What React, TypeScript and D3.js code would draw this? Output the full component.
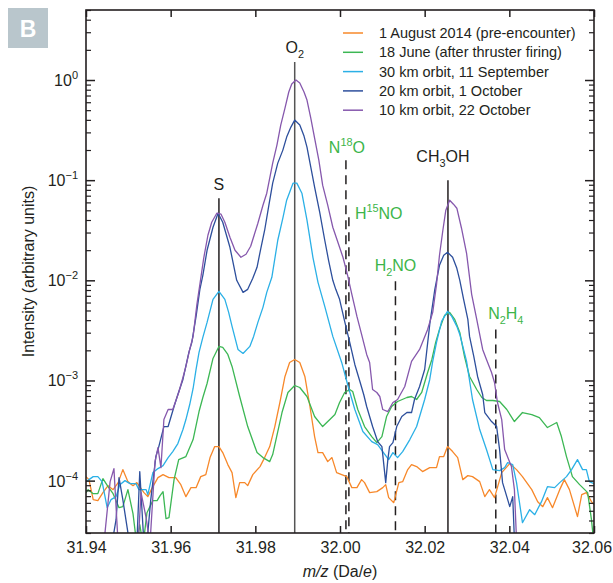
import React, { useRef, useEffect } from "react";
import * as d3 from "d3";

// every series point is [m/z, log10 intensity]
const aug2014 = [
  [31.94, -3.96], [31.9407, -3.99], [31.9417, -4.19], [31.9428, -4.2], [31.944, -4.12], [31.9452, -4.05],
  [31.9464, -4.09], [31.9476, -4.02], [31.9487, -3.89], [31.9499, -4.01], [31.9511, -4.05], [31.952, -4.02],
  [31.9537, -4.12], [31.9546, -4.16], [31.9558, -4.06], [31.957, -3.97], [31.9582, -3.94], [31.9596, -3.97],
  [31.9612, -3.97], [31.9624, -4.04], [31.9636, -4.16], [31.9648, -4.07], [31.966, -4.07], [31.9671, -3.96],
  [31.9683, -3.94], [31.9693, -3.77], [31.9704, -3.66], [31.9714, -3.66], [31.9723, -3.72], [31.9735, -3.84],
  [31.9745, -3.92], [31.9754, -4.17], [31.9763, -4.02], [31.9775, -4.02], [31.9782, -4.05], [31.9794, -3.94],
  [31.9811, -3.86], [31.9822, -3.77], [31.9834, -3.66], [31.9846, -3.46], [31.9858, -3.22], [31.987, -2.96],
  [31.9881, -2.82], [31.9893, -2.79], [31.9905, -2.82], [31.9917, -2.96], [31.9929, -3.26], [31.994, -3.56],
  [31.9948, -3.72], [31.9959, -3.72], [31.9971, -3.81], [31.9981, -3.77], [31.9992, -3.92], [32.0004, -3.94],
  [32.0016, -3.96], [32.0028, -4.07], [32.004, -4.07], [32.0051, -3.99], [32.0058, -4.02], [32.007, -4.12],
  [32.0087, -4.11], [32.0101, -4.07], [32.0108, -4.04], [32.0115, -4.17], [32.0127, -4.22], [32.0139, -4.02],
  [32.0148, -4.01], [32.016, -3.89], [32.0169, -3.84], [32.0181, -3.86], [32.0195, -3.91], [32.0212, -3.87],
  [32.0228, -3.87], [32.0235, -3.76], [32.0245, -3.76], [32.0254, -3.66], [32.0266, -3.71], [32.0278, -3.77],
  [32.029, -3.99], [32.0302, -3.95], [32.0313, -3.96], [32.033, -4.01], [32.0342, -4.16], [32.0353, -4.09],
  [32.0365, -4.17], [32.0382, -3.92], [32.0401, -3.83], [32.0417, -3.89], [32.0431, -3.96], [32.0453, -4.09],
  [32.0467, -4.21], [32.0479, -4.26], [32.049, -4.17], [32.0502, -4.27], [32.0519, -4.09], [32.053, -3.99],
  [32.0542, -4.09], [32.0561, -4.36], [32.0571, -4.14], [32.0582, -4.12], [32.0594, -4.21], [32.06, -4.24],
];

const june18 = [
  [31.94, -4.12], [31.9405, -4.09], [31.9417, -4.13], [31.9428, -4.13], [31.944, -3.98], [31.9452, -4.06],
  [31.9464, -4.13], [31.9478, -4.27], [31.9487, -4.26], [31.9499, -4.09], [31.9511, -4.33], [31.952, -4.64],
  [31.9527, -4.44], [31.9535, -4.64], [31.9544, -4.32], [31.9558, -4.2], [31.9568, -4.2], [31.9575, -4.15],
  [31.9582, -4.11], [31.9589, -4.38], [31.9596, -4.37], [31.9608, -3.99], [31.9619, -3.79], [31.9636, -3.76],
  [31.9653, -3.59], [31.9667, -3.31], [31.9676, -3.17], [31.9686, -3.03], [31.97, -2.78], [31.9714, -2.66],
  [31.9723, -2.67], [31.9735, -2.74], [31.9745, -2.86], [31.9763, -3.16], [31.9782, -3.46], [31.9804, -3.72],
  [31.9818, -3.77], [31.9834, -3.81], [31.9841, -3.74], [31.9853, -3.51], [31.9863, -3.32], [31.9877, -3.12],
  [31.9893, -3.05], [31.9905, -3.07], [31.9922, -3.16], [31.994, -3.36], [31.9959, -3.46], [31.9976, -3.39],
  [31.9988, -3.34], [31.9999, -3.22], [32.0011, -3.12], [32.0023, -3.09], [32.003, -3.11], [32.0042, -3.29],
  [32.0058, -3.46], [32.0075, -3.56], [32.0087, -3.62], [32.0099, -3.56], [32.011, -3.36], [32.0122, -3.26],
  [32.0136, -3.21], [32.0158, -3.17], [32.0169, -3.16], [32.0181, -3.19], [32.0193, -3.12], [32.0207, -2.92],
  [32.0217, -2.79], [32.0226, -2.62], [32.0235, -2.49], [32.0247, -2.35], [32.0259, -2.32], [32.0271, -2.39],
  [32.0283, -2.52], [32.0294, -2.76], [32.0306, -2.96], [32.0323, -3.09], [32.0335, -3.17], [32.0346, -3.2],
  [32.0361, -3.2], [32.0377, -3.21], [32.0394, -3.29], [32.0412, -3.41], [32.0431, -3.32], [32.0453, -3.34],
  [32.0471, -3.37], [32.049, -3.47], [32.0512, -3.42], [32.0523, -3.56], [32.0535, -3.76], [32.0549, -3.96],
  [32.0566, -4.04], [32.0578, -4.09], [32.0585, -4.12], [32.0594, -4.39], [32.06, -4.64],
];

const sep11 = [
  [31.94, -4.01], [31.9407, -3.99], [31.9417, -3.96], [31.9428, -3.96], [31.9438, -4.01], [31.945, -4.27],
  [31.9459, -4.19], [31.9471, -4.16], [31.948, -4.04], [31.9492, -4.0], [31.9504, -4.03], [31.9518, -4.03],
  [31.9525, -4.09], [31.9542, -4.09], [31.9546, -4.14], [31.9558, -3.92], [31.957, -3.88], [31.9582, -3.85],
  [31.9594, -3.77], [31.9605, -3.71], [31.9617, -3.63], [31.9629, -3.49], [31.9636, -3.39], [31.9645, -3.24],
  [31.9653, -3.08], [31.966, -2.89], [31.9667, -2.72], [31.9676, -2.57], [31.9686, -2.42], [31.97, -2.19],
  [31.9714, -2.11], [31.9728, -2.19], [31.9737, -2.32], [31.9745, -2.46], [31.9759, -2.69], [31.9771, -2.73],
  [31.9787, -2.66], [31.9796, -2.56], [31.9806, -2.42], [31.9818, -2.27], [31.9827, -2.12], [31.9839, -1.97],
  [31.9853, -1.6], [31.9865, -1.38], [31.9874, -1.2], [31.9889, -1.03], [31.9898, -1.03], [31.991, -1.13],
  [31.9922, -1.4], [31.9936, -1.77], [31.9948, -2.02], [31.9964, -2.26], [31.9983, -2.56], [32.0004, -2.82],
  [32.0018, -3.04], [32.0035, -3.29], [32.0054, -3.51], [32.0075, -3.61], [32.0089, -3.64], [32.0101, -3.71],
  [32.0115, -3.79], [32.0125, -3.72], [32.0136, -3.77], [32.0148, -3.71], [32.0165, -3.59], [32.0181, -3.46],
  [32.02, -3.19], [32.0212, -2.99], [32.0219, -2.81], [32.0228, -2.62], [32.024, -2.41], [32.0254, -2.31],
  [32.0264, -2.36], [32.0276, -2.46], [32.0283, -2.54], [32.0299, -2.81], [32.0313, -3.19], [32.033, -3.49],
  [32.0346, -3.69], [32.0361, -3.89], [32.0377, -3.9], [32.0389, -3.87], [32.0396, -3.82], [32.0408, -3.84],
  [32.0417, -4.02], [32.0431, -4.42], [32.0448, -4.29], [32.046, -4.34], [32.0476, -4.21], [32.049, -4.06],
  [32.0507, -4.07], [32.0519, -4.02], [32.0535, -3.96], [32.0547, -3.89], [32.0561, -3.79], [32.0573, -3.89],
  [32.0582, -3.89], [32.0589, -4.01], [32.06, -4.03],
];

const oct1 = [
  [31.9461, -4.64], [31.9471, -4.39], [31.9478, -3.97], [31.9487, -4.19], [31.9499, -4.52], [31.9506, -4.64],
  [31.952, -4.64], [31.9527, -3.91], [31.9537, -4.64], [31.9546, -4.52], [31.9553, -4.19], [31.9565, -3.76],
  [31.9572, -3.66], [31.9584, -3.46], [31.9594, -3.46], [31.9608, -3.26], [31.9617, -3.14], [31.9629, -2.99],
  [31.9643, -2.72], [31.965, -2.62], [31.966, -2.36], [31.9669, -2.09], [31.9676, -1.95], [31.9686, -1.7],
  [31.97, -1.47], [31.9712, -1.33], [31.9723, -1.42], [31.974, -1.67], [31.9756, -2.0], [31.9771, -2.12],
  [31.9782, -2.09], [31.9794, -1.98], [31.9804, -1.87], [31.9813, -1.68], [31.9822, -1.5], [31.9832, -1.25],
  [31.9841, -1.03], [31.9853, -0.83], [31.9865, -0.7], [31.9874, -0.57], [31.9884, -0.47], [31.9893, -0.4],
  [31.9905, -0.45], [31.9915, -0.56], [31.9922, -0.67], [31.9931, -0.87], [31.994, -1.07], [31.9952, -1.32],
  [31.9964, -1.6], [31.9973, -1.8], [31.9983, -2.0], [31.999, -2.09], [31.9999, -2.19], [32.0011, -2.41],
  [32.0023, -2.62], [32.0035, -2.84], [32.0047, -3.01], [32.0056, -3.14], [32.0063, -3.26], [32.0077, -3.46],
  [32.0089, -3.61], [32.0099, -3.66], [32.0108, -4.02], [32.0113, -3.79], [32.0117, -3.66], [32.0125, -3.62],
  [32.0134, -3.46], [32.0146, -3.36], [32.0158, -3.32], [32.0169, -3.32], [32.0176, -3.19], [32.0188, -3.06],
  [32.02, -2.89], [32.0212, -2.44], [32.0224, -2.09], [32.0235, -1.85], [32.0245, -1.75], [32.0254, -1.72],
  [32.0266, -1.77], [32.0276, -1.88], [32.0283, -2.0], [32.0292, -2.19], [32.0302, -2.39], [32.0306, -2.56],
  [32.0316, -2.76], [32.0325, -2.96], [32.0337, -3.14], [32.0342, -3.32], [32.0358, -3.41], [32.037, -3.46],
  [32.0377, -3.69], [32.0384, -4.02], [32.0394, -4.16], [32.0401, -4.26], [32.0408, -4.16], [32.0412, -4.59],
];

const oct22 = [
  [31.9442, -4.64], [31.9457, -4.01], [31.9466, -3.88], [31.9476, -4.64], [31.9523, -4.64], [31.953, -4.12],
  [31.9542, -4.37], [31.9551, -4.64], [31.9563, -3.81], [31.957, -3.67], [31.9577, -3.87], [31.9584, -3.39],
  [31.9594, -3.29], [31.9605, -3.29], [31.9619, -3.12], [31.9629, -2.97], [31.9636, -2.86], [31.9645, -2.69],
  [31.9653, -2.56], [31.9662, -2.24], [31.9669, -2.04], [31.9678, -1.78], [31.9688, -1.55], [31.9697, -1.42],
  [31.9709, -1.33], [31.9719, -1.34], [31.9728, -1.42], [31.974, -1.57], [31.9752, -1.7], [31.9766, -1.77],
  [31.9778, -1.74], [31.9789, -1.66], [31.9806, -1.43], [31.9818, -1.25], [31.9827, -1.13], [31.9841, -0.83],
  [31.9851, -0.65], [31.986, -0.45], [31.987, -0.28], [31.9879, -0.12], [31.9886, -0.04], [31.9896, 0.0],
  [31.9905, -0.03], [31.9915, -0.12], [31.9922, -0.2], [31.9931, -0.38], [31.994, -0.58], [31.995, -0.8],
  [31.9959, -1.05], [31.9971, -1.25], [31.9983, -1.47], [31.9995, -1.62], [32.0007, -1.77], [32.0018, -1.95],
  [32.0028, -2.14], [32.004, -2.36], [32.0051, -2.54], [32.0063, -2.74], [32.007, -2.82], [32.0077, -3.09],
  [32.0087, -3.12], [32.0094, -3.16], [32.0101, -3.29], [32.0113, -3.31], [32.0125, -3.22], [32.0136, -3.19],
  [32.0153, -3.06], [32.0169, -2.81], [32.0188, -2.69], [32.0207, -2.49], [32.0219, -2.32], [32.0228, -2.04],
  [32.0235, -1.75], [32.0243, -1.5], [32.025, -1.3], [32.0259, -1.2], [32.0268, -1.24], [32.0276, -1.28],
  [32.0287, -1.48], [32.0299, -1.73], [32.0311, -2.14], [32.0323, -2.39], [32.0337, -2.69], [32.0346, -2.79],
  [32.0358, -2.92], [32.0365, -3.02], [32.0372, -3.22], [32.0382, -3.39], [32.0389, -3.69], [32.0405, -3.86],
  [32.0412, -4.09], [32.0417, -4.59],
];

const series = [aug2014, june18, sep11, oct1, oct22];
const seriesNames = [
  "1 August 2014 (pre-encounter)",
  "18 June (after thruster firing)",
  "30 km orbit, 11 September",
  "20 km orbit, 1 October",
  "10 km orbit, 22 October",
];
const seriesColors = ["#f7882a", "#3cb754", "#2bb0e6", "#2d4f9c", "#8658ad"];

const xTicks = [31.94, 31.96, 31.98, 32.0, 32.02, 32.04, 32.06];
const yTickExps = [-4, -3, -2, -1, 0];

// assigned species: m/z of the line and its upper end (log10 intensity)
// "_n" is a subscript, "^n" a superscript
const solidPeaks = [
  { name: "S", mz: 31.9714, top: -1.18 },
  { name: "O_2", mz: 31.9893, top: 0.18 },
  { name: "CH_3OH", mz: 32.0255, top: -1.0 },
];
const dashedPeaks = [
  { name: "N^18O", mz: 32.0014, top: -0.8 },
  { name: "H^15NO", mz: 32.0021, top: -1.37 },
  { name: "H_2NO", mz: 32.0131, top: -2.01 },
  { name: "N_2H_4", mz: 32.0368, top: -2.49 },
];

const FONT = "'Liberation Sans', Arial, Helvetica, sans-serif";
const INK = "#231f20";
const LABEL_GREEN = "#3cb54a";

// label placement relative to the top of each marker line
const labelOffset: Record<string, { dx: number; dy: number; anchor: string }> = {
  S: { dx: 0, dy: -8, anchor: "middle" },
  O_2: { dx: 0, dy: -9, anchor: "middle" },
  CH_3OH: { dx: -5, dy: -18, anchor: "middle" },
  "N^18O": { dx: 1, dy: -7, anchor: "middle" },
  "H^15NO": { dx: 6, dy: 2, anchor: "start" },
  H_2NO: { dx: 0, dy: -10, anchor: "middle" },
  N_2H_4: { dx: 10, dy: -10, anchor: "middle" },
};

function richText(sel: any, label: string, size: number) {
  const parts = label.match(/_\d+|\^\d+|[^_^]+/g) || [];
  let cur = 0;
  parts.forEach((p) => {
    const kind = p[0] === "_" ? "sub" : p[0] === "^" ? "sup" : "";
    const text = kind ? p.slice(1) : p;
    const target = kind === "sub" ? size * 0.3 : kind === "sup" ? -size * 0.42 : 0;
    sel
      .append("tspan")
      .attr("dy", target - cur)
      .attr("font-size", kind ? size * 0.68 : size)
      .text(text);
    cur = target;
  });
}

const App = () => {
  const svgRef = useRef<SVGSVGElement>(null);

  useEffect(() => {
    const svg = d3.select(svgRef.current);
    svg.selectAll("*").remove();

    const left = 86, right = 594, top = 10, bottom = 533;
    const x = d3.scaleLinear().domain([31.94, 32.06]).range([left, right]);
    const y = d3.scaleLog().domain([3e-5, 5]).range([bottom, top]);

    svg.append("rect").attr("width", 613).attr("height", 583).attr("fill", "#fff");

    // panel badge
    svg.append("rect").attr("x", 8).attr("y", 8).attr("width", 40).attr("height", 40).attr("fill", "#b9c6cc");
    svg
      .append("text")
      .attr("x", 28)
      .attr("y", 37)
      .attr("text-anchor", "middle")
      .attr("font-family", FONT)
      .attr("font-weight", "bold")
      .attr("font-size", 23)
      .attr("fill", "#fff")
      .text("B");

    svg
      .append("clipPath")
      .attr("id", "plot-clip")
      .append("rect")
      .attr("x", left)
      .attr("y", top)
      .attr("width", right - left)
      .attr("height", bottom - top);

    // marker lines for the assigned species
    const markers = svg.append("g");
    solidPeaks.forEach((p) => {
      markers
        .append("line")
        .attr("x1", x(p.mz))
        .attr("x2", x(p.mz))
        .attr("y1", y(10 ** p.top))
        .attr("y2", bottom)
        .attr("stroke", p.name === "O_2" ? "#555" : INK)
        .attr("stroke-width", 1.5);
    });
    dashedPeaks.forEach((p) => {
      markers
        .append("line")
        .attr("x1", x(p.mz))
        .attr("x2", x(p.mz))
        .attr("y1", y(10 ** p.top))
        .attr("y2", bottom)
        .attr("stroke", INK)
        .attr("stroke-width", 1.5)
        .attr("stroke-dasharray", "9,6");
    });

    // spectra
    const line = d3
      .line<number[]>()
      .x((d) => x(d[0]))
      .y((d) => y(10 ** d[1]));
    const lines = svg.append("g").attr("clip-path", "url(#plot-clip)");
    series.forEach((s, i) => {
      lines
        .append("path")
        .datum(s)
        .attr("d", line)
        .attr("fill", "none")
        .attr("stroke", seriesColors[i])
        .attr("stroke-width", 1.3)
        .attr("stroke-linejoin", "round");
    });

    // species labels
    [...solidPeaks, ...dashedPeaks].forEach((p) => {
      const o = labelOffset[p.name];
      const t = svg
        .append("text")
        .attr("x", x(p.mz) + o.dx)
        .attr("y", y(10 ** p.top) + o.dy)
        .attr("text-anchor", o.anchor)
        .attr("font-family", FONT)
        .attr("fill", solidPeaks.includes(p) ? INK : LABEL_GREEN);
      richText(t, p.name, 16);
    });

    // axes: ticks point inwards on all four sides
    const fmtNone = () => "";
    const minor = y.ticks().filter((v) => Math.abs(Math.log10(v) - Math.round(Math.log10(v))) > 1e-6);
    const majors = yTickExps.map((e) => 10 ** e);

    const axes = svg.append("g").attr("color", INK).attr("font-family", FONT);
    axes
      .append("g")
      .attr("transform", `translate(0,${bottom})`)
      .call(d3.axisBottom(x).tickValues(xTicks).tickSizeInner(-7).tickSizeOuter(0).tickPadding(9).tickFormat(d3.format(".2f")))
      .call((g) => g.select(".domain").remove())
      .call((g) =>
        g
          .selectAll("text")
          .attr("font-size", 16)
          .attr("fill", INK)
          // the last label sits against the window edge, as in the original
          .attr("dx", (_d, i) => (i === xTicks.length - 1 ? -2.5 : 0))
      )
      .call((g) => g.selectAll("line").attr("stroke-width", 1.5));
    axes
      .append("g")
      .attr("transform", `translate(0,${top})`)
      .call(d3.axisTop(x).tickValues(xTicks).tickSizeInner(-7).tickSizeOuter(0).tickFormat(fmtNone))
      .call((g) => g.select(".domain").remove())
      .call((g) => g.selectAll("line").attr("stroke-width", 1.5));

    [
      { axis: d3.axisLeft, pos: left },
      { axis: d3.axisRight, pos: right },
    ].forEach(({ axis, pos }) => {
      axes
        .append("g")
        .attr("transform", `translate(${pos},0)`)
        .call(axis(y).tickValues(majors).tickSizeInner(-9).tickSizeOuter(0).tickFormat(fmtNone))
        .call((g) => g.select(".domain").remove())
        .call((g) => g.selectAll("line").attr("stroke-width", 1.5));
      axes
        .append("g")
        .attr("transform", `translate(${pos},0)`)
        .call(axis(y).tickValues(minor).tickSizeInner(-5).tickSizeOuter(0).tickFormat(fmtNone))
        .call((g) => g.select(".domain").remove())
        .call((g) => g.selectAll("line").attr("stroke-width", 1.2));
    });

    yTickExps.forEach((e) => {
      const t = axes
        .append("text")
        .attr("x", 78)
        .attr("y", y(10 ** e) + 6)
        .attr("text-anchor", "end")
        .attr("fill", INK)
        .attr("font-size", 16);
      t.append("tspan").text("10");
      t.append("tspan").attr("dy", -7).attr("font-size", 11).text(e < 0 ? "\u2212" + -e : String(e));
    });

    svg
      .append("rect")
      .attr("x", left)
      .attr("y", top)
      .attr("width", right - left)
      .attr("height", bottom - top)
      .attr("fill", "none")
      .attr("stroke", INK)
      .attr("stroke-width", 1.6);

    // axis titles
    const xt = svg
      .append("text")
      .attr("x", (left + right) / 2)
      .attr("y", 577)
      .attr("text-anchor", "middle")
      .attr("font-family", FONT)
      .attr("font-size", 16)
      .attr("fill", INK);
    xt.append("tspan").attr("font-style", "italic").text("m/z");
    xt.append("tspan").text(" (Da/");
    xt.append("tspan").attr("font-style", "italic").text("e");
    xt.append("tspan").text(")");

    svg
      .append("text")
      .attr("transform", `translate(34,${(top + bottom) / 2}) rotate(-90)`)
      .attr("text-anchor", "middle")
      .attr("font-family", FONT)
      .attr("font-size", 16)
      .attr("fill", INK)
      .text("Intensity (arbitrary units)");

    // legend
    const legend = svg.append("g").attr("font-family", FONT).attr("font-size", 14.5).attr("fill", INK);
    seriesNames.forEach((name, i) => {
      const ly = 33 + i * 19.3;
      legend
        .append("line")
        .attr("x1", 343)
        .attr("x2", 363)
        .attr("y1", ly)
        .attr("y2", ly)
        .attr("stroke", seriesColors[i])
        .attr("stroke-width", 1.5);
      legend
        .append("text")
        .attr("x", 379)
        .attr("y", ly + 5)
        .text(name);
    });
  }, []);

  return (
    <svg
      ref={svgRef}
      width={613}
      height={583}
      style={{ position: "absolute", left: 0, top: 0 }}
    ></svg>
  );
};

export default App;
